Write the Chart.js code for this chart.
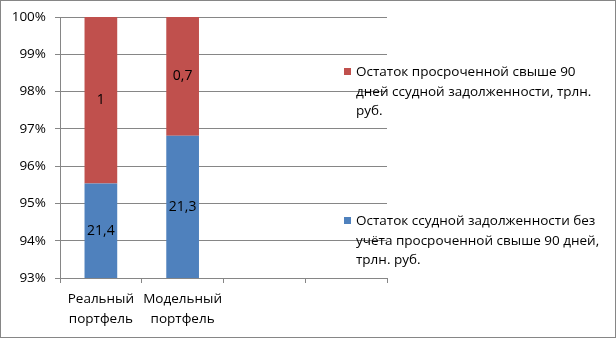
<!DOCTYPE html>
<html>
<head>
<meta charset="utf-8">
<script src="https://cdn.jsdelivr.net/npm/chart.js@4"></script>
<style>
  body { margin: 0; background: #fff; }
  #wrap { position: relative; width: 616px; height: 338px; }
  .leg { position: absolute; left: 344px; font: 13.5px "Open Sans", sans-serif; color: #000; line-height: 19.5px; white-space: nowrap; }
  .leg i { position: absolute; left: 0; top: 6px; width: 7px; height: 7px; }
  .leg span { display: block; margin-left: 12px; }
</style>
</head>
<body>
<div id="wrap">
  <canvas id="chartCanvas" width="616" height="338"></canvas>
  <div class="leg" id="leg0" style="top:62px"></div>
  <div class="leg" id="leg1" style="top:211px"></div>
</div>
<script>
// категории и значения (трлн. руб.)
const categories = [['Реальный', 'портфель'], ['Модельный', 'портфель'], '', '']
const seriesNames = [
  ['Остаток ссудной задолженности без', 'учёта просроченной свыше 90 дней,', 'трлн. руб.'],
  ['Остаток просроченной свыше 90', 'дней ссудной задолженности, трлн.', 'руб.']
]
const goodLoans = [21.4, 21.3, null, null]
const overdueLoans = [1, 0.7, null, null]
const labelsGood = ['21,4', '21,3', '', '']
const labelsOverdue = ['1', '0,7', '', '']
const colors = ['#4f81bd', '#c0504d']
const yTicks = [93, 94, 95, 96, 97, 98, 99, 100]

// доли в процентах (100% stacked)
const pct = (a, b) => a.map((v, i) => v == null ? null : v / (v + b[i]) * 100)

const fontName = '"Open Sans", sans-serif'

// подписи данных в видимой части столбца
const valueLabels = {
  id: 'valueLabels',
  afterDatasetsDraw(chart) {
    const ctx = chart.ctx
    const area = chart.chartArea
    ctx.save()
    ctx.font = '14px ' + fontName
    ctx.fillStyle = '#000'
    ctx.textAlign = 'center'
    ctx.textBaseline = 'middle'
    chart.data.datasets.forEach((ds, di) => {
      chart.getDatasetMeta(di).data.forEach((bar, i) => {
        if (!ds.valueText[i]) return
        const top = Math.max(bar.y, area.top)
        const bottom = Math.min(bar.base, area.bottom)
        ctx.fillText(ds.valueText[i], bar.x, (top + bottom) / 2)
      })
    })
    ctx.restore()
  }
}

// рамка вокруг диаграммы
const frame = {
  id: 'frame',
  afterDraw(chart) {
    const ctx = chart.ctx
    ctx.save()
    ctx.strokeStyle = '#868686'
    ctx.lineWidth = 1
    ctx.strokeRect(0.5, 0.5, chart.width - 1, chart.height - 1)
    ctx.restore()
  }
}

const chart = new Chart(document.getElementById('chartCanvas'), {
  type: 'bar',
  data: {
    labels: categories,
    datasets: [
      { label: seriesNames[0].join(' '), data: pct(goodLoans, overdueLoans), backgroundColor: colors[0], valueText: labelsGood, barPercentage: 0.4, categoryPercentage: 1 },
      { label: seriesNames[1].join(' '), data: pct(overdueLoans, goodLoans), backgroundColor: colors[1], valueText: labelsOverdue, barPercentage: 0.4, categoryPercentage: 1 }
    ]
  },
  options: {
    responsive: false,
    animation: false,
    layout: { padding: { top: 17, right: 229, left: 0, bottom: 0 } },
    plugins: { legend: { display: false }, tooltip: { enabled: false } },
    scales: {
      x: {
        stacked: true,
        afterFit: s => { s.height = 60 },
        grid: { drawOnChartArea: false, offset: true, tickLength: 5, color: '#868686' },
        border: { color: '#868686' },
        ticks: { color: '#000', font: { family: fontName, size: 13.5, lineHeight: 1.5 }, padding: 6, maxRotation: 0, autoSkip: false }
      },
      y: {
        stacked: true,
        min: 93,
        max: 100,
        afterFit: s => { s.width = 60 },
        afterBuildTicks: s => { s.ticks = yTicks.map(v => ({ value: v })) },
        grid: { color: '#868686', tickLength: 5 },
        border: { color: '#868686' },
        ticks: { color: '#000', font: { family: fontName, size: 13.5 }, padding: 9, callback: v => v + '%' }
      }
    }
  },
  plugins: [valueLabels, frame]
})

// легенда справа, обратный порядок (как в оригинале)
const legOrder = [1, 0]
legOrder.forEach((si, k) => {
  const el = document.getElementById('leg' + k)
  el.innerHTML = '<i style="background:' + colors[si] + '"></i><span>' + seriesNames[si].join('<br>') + '</span>'
})
</script>
</body>
</html>
